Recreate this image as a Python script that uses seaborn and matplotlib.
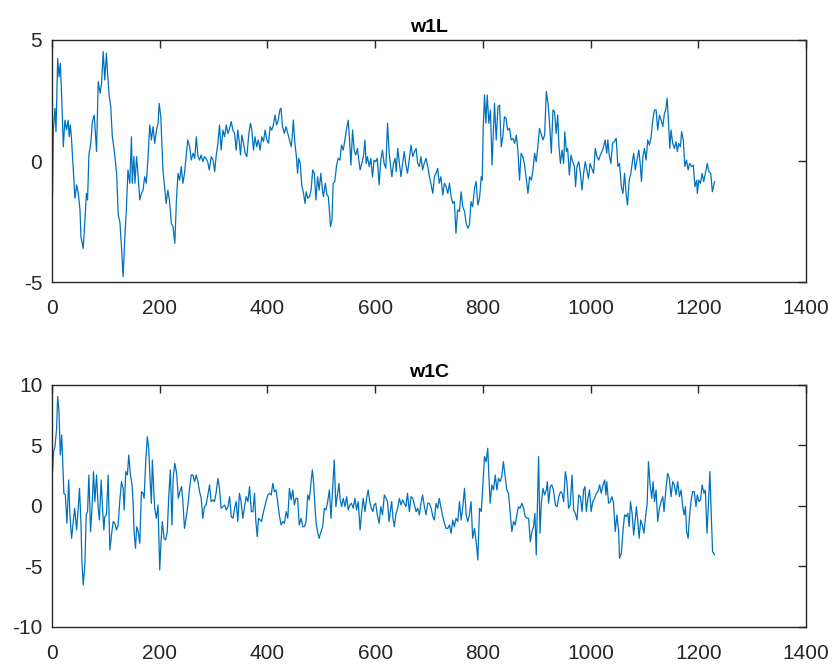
"""Two stacked time-series panels (w1L, w1C) in MATLAB-like style."""

import matplotlib
matplotlib.use("Agg")
import matplotlib.pyplot as plt
import seaborn as sns

LINE_COLOR = "#0072BD"
AXIS_COLOR = "#262626"

# ---- w1L (top panel) ----
w1l_x = [1, 2.5, 5.5, 7.4, 10.5, 13, 15.4, 18, 21, 24, 27, 30, 32, 34, 36, 39.5, 42.6, 45.7,
         48.8, 52, 53.7, 58, 61, 64, 66, 68.5, 72, 75, 78.4, 82.7, 85.8, 89.5, 92, 95, 98,
         101, 103, 106, 109, 112, 115.5, 120, 123, 126, 129, 132, 135, 138, 141, 144.5,
         147.5, 149, 152, 154, 157, 160, 163, 166, 169, 172, 175, 178, 181.5, 184.6, 187.6,
         190.7, 194, 197, 199, 202, 204, 206, 209, 212, 215, 218, 221.6, 224.7, 228, 231,
         234, 237, 240, 243, 246, 249, 252, 255.6, 258.6, 262, 265, 268, 271, 274, 277, 280,
         283, 286, 289, 292, 295.7, 299, 302, 305, 308, 311, 314, 317.3, 320.4, 323.5, 326.6,
         329.7, 332.8, 335.8, 339, 342, 345, 348, 350, 352.5, 355.6, 358.7, 361.7, 365.5,
         368.5, 371, 374, 377, 380, 383, 386.4, 389.5, 392.6, 395.7, 398.8, 402, 405, 408,
         411, 414, 417, 420, 423, 425, 428, 431.5, 434.6, 437.7, 440.7, 444, 446, 448, 451,
         453.7, 456, 458, 461, 463.6, 467, 469.7, 472, 475, 478, 481, 484, 487, 490, 493, 496,
         499, 502, 504, 507.4, 510.4, 513, 515.4, 517, 519.7, 522, 525, 528.4, 531.4, 534.5,
         537.6, 540.7, 543.8, 547, 550, 552.4, 555, 558, 561, 564, 567, 569.7, 572, 575,
         578.3, 581, 583.3, 585.7, 589, 592, 595, 598, 601, 604, 607.3, 610.4, 613.5, 616.6,
         619.7, 623, 626, 628, 631, 634, 637, 639, 642, 645, 648, 651, 654, 657, 660, 663.5,
         666.6, 669.7, 673, 676, 679, 682, 685, 688, 691, 694.5, 697.6, 700.7, 704, 707, 710,
         713, 716, 719, 722, 725.5, 728.6, 731.7, 734.8, 738, 741, 744, 747, 750, 753, 756.5,
         759.6, 762.7, 766, 769, 772, 775, 778, 781, 784.4, 787.5, 790.6, 793.7, 797, 798.7,
         800.5, 803, 805.5, 808, 811, 814, 817, 821.6, 824.7, 828, 831, 834, 837, 840, 843,
         846, 849.5, 852.6, 855.7, 859, 862, 865, 868, 871, 874, 877, 880.5, 883.6, 886.7,
         890, 893, 896, 899, 902, 905, 908, 911.5, 914.6, 917.7, 921, 924, 927, 930, 933, 936,
         939, 941, 944, 947, 950, 952, 955, 957.4, 960.5, 963.6, 966.7, 970, 972, 974.7, 978,
         981, 984, 987, 990, 993, 996, 999, 1002, 1005.5, 1008.6, 1011.7, 1015, 1018, 1021,
         1024, 1027, 1030, 1032, 1034.5, 1037.6, 1040.7, 1044, 1047.5, 1050.6, 1053.7, 1057,
         1060, 1063, 1066, 1068.5, 1071.6, 1074.7, 1078, 1080, 1083, 1086, 1089.5, 1092,
         1094.4, 1097, 1100, 1103, 1106, 1109, 1112, 1115.4, 1118.5, 1121.5, 1124.6, 1127.7,
         1131, 1134, 1137, 1139.4, 1142, 1144.4, 1147, 1149.3, 1152.4, 1155.5, 1158.6, 1161,
         1163.5, 1166.6, 1169, 1172, 1175, 1178, 1181, 1184, 1187.5, 1190.6, 1193.7, 1197,
         1198, 1201, 1204, 1207, 1210, 1213, 1216.6, 1219.6, 1223, 1226, 1230]
w1l_y = [-1.34, 1.28, 2.18, 1.21, 4.24, 3.48, 4.04, 2.66, 0.59, 1.69, 1.28, 1.69, 1.0, 1.49,
         1.0, -0.37, -1.54, -0.99, -1.34, -2.02, -3.13, -3.61, -2.44, -1.34, -1.61, 0.25,
         0.73, 1.63, 1.90, 0.39, 3.28, 2.80, 3.21, 4.52, 3.35, 4.45, 3.69, 2.73, 2.25, 1.0,
         0.45, -0.51, -2.23, -2.51, -3.54, -4.78, -3.26, -2.02, -0.37, -0.92, 1.0, -0.92, 0.18,
         -0.92, 0.18, -0.65, -1.61, -1.34, -1.2, -0.65, -0.92, 0.04, 1.49, 0.87, 1.42, 0.73,
         1.28, 1.56, 2.38, 1.83, 0.73, -0.37, -1.06, -1.75, -1.2, -1.61, -2.58, -2.71, -3.40,
         -1.61, -0.51, -0.79, -0.23, -0.92, -0.51, 0.18, 0.87, 0.59, 0.04, 0.32, 0.11, 1.0,
         0.18, 0.04, 0.25, -0.03, 0.18, 0.11, -0.03, -0.37, 0.18, 0.04, -0.44, 0.25, 0.73,
         1.49, 0.45, 1.28, 1.0, 1.49, 1.14, 1.35, 1.63, 1.28, 1.14, 0.45, 1.28, 0.73, 0.25,
         1.07, 0.73, 0.32, 0.18, 1.14, 1.56, 1.28, 0.45, 1.0, 0.59, 0.87, 0.45, 1.0, 0.80,
         1.28, 0.87, 0.73, 1.42, 1.28, 1.49, 1.90, 1.49, 1.69, 2.11, 2.18, 1.42, 1.14, 1.42,
         1.14, 0.87, 0.59, 1.0, 1.69, 0.73, 0.18, -0.51, 0.11, -0.10, -0.99, -1.34, -1.75,
         -1.27, -1.54, -1.47, -1.20, -0.37, -0.51, -1.61, -0.65, -1.20, -0.51, -1.20, -1.47,
         -0.92, -1.40, -1.47, -2.16, -2.71, -2.44, -0.92, -0.85, -0.17, 0.11, 0.04, 0.66,
         0.45, 0.87, 1.35, 1.69, 0.87, -0.17, 1.28, 0.45, 0.25, 0.52, 0.04, -0.37, -0.10,
         0.18, 0.87, -0.10, 0.18, -0.23, 0.11, -0.65, 0.04, -0.03, 0.11, -0.99, 0.04, 0.45,
         -0.10, -0.30, 1.56, 0.32, -0.10, -0.65, -0.10, 0.11, -0.44, 0.52, -0.10, -0.65,
         -0.10, 0.39, -0.17, -0.51, 0.11, 0.66, 0.18, 0.39, 0.52, -0.10, -0.23, 0.18, -0.37,
         -0.10, 0.11, -0.23, -0.65, -0.99, -1.34, -0.65, -0.51, -0.30, -0.92, -0.65, -1.40,
         -0.92, -1.06, -1.34, -0.92, -1.47, -1.75, -1.68, -2.99, -2.02, -2.09, -1.27, -1.89,
         -2.09, -2.58, -2.78, -2.64, -1.68, -1.89, -1.13, -0.85, -1.82, -1.54, -0.65, -0.79,
         1.28, 2.73, 1.56, 2.73, 1.56, 2.11, -0.17, 2.38, 0.87, 2.25, 2.31, 0.59, 1.0, 1.83,
         1.76, 1.28, 1.35, 0.87, 0.94, 0.73, 1.07, 0.45, -0.79, 0.32, 0.18, -0.10, -0.72,
         -1.34, -0.65, -0.79, -0.37, 0.32, -0.03, 0.59, 1.35, 1.14, 0.87, 1.07, 2.87, 2.38,
         1.49, 0.32, 2.11, 2.04, 1.14, 1.90, 0.66, -0.10, 0.45, -0.10, 1.21, 0.39, 0.52,
         -0.58, 0.25, -0.03, -0.23, -1.06, -0.23, -0.03, -0.51, -1.20, -0.51, -0.03, -0.37,
         -0.72, -0.10, -0.30, -0.51, 0.52, 0.18, 0.04, 0.25, 0.39, 0.59, 0.87, 0.32, 0.87,
         0.25, -0.10, 0.73, 0.80, 0.94, -0.23, -0.10, -1.06, -1.34, -0.51, -1.40, -1.82,
         -0.79, -0.51, 0.04, 0.32, -0.37, 0.04, 0.45, -0.10, -0.85, 0.18, 0.52, 0.04, 0.87,
         0.66, 0.94, 1.69, 2.11, 2.11, 1.28, 1.90, 1.69, 1.42, 1.97, 2.11, 2.59, 1.69, 0.52,
         1.28, 0.73, 0.52, 0.80, 0.39, 0.73, 0.59, 1.21, 0.87, -0.23, 0.04, -0.37, -0.10,
         -0.23, -0.17, -1.06, -0.79, -1.34, -0.79, -0.92, -0.51, -0.85, -0.51, -0.10, -0.44,
         -0.51, -1.27, -0.85]

# ---- w1C (bottom panel) ----
w1c_x = [1, 3, 5.5, 8.6, 10.5, 13, 15.4, 18, 19.7, 22, 24.7, 27.8, 31, 33.3, 36.4, 39.5, 42,
         45.7, 48.7, 51, 53.7, 55.5, 58, 61, 63.5, 66, 68.5, 71.6, 74.7, 77, 79.6, 82.7, 85.8,
         88, 91.3, 93.8, 96.3, 98, 101, 104.3, 107.4, 110.4, 113.5, 116.6, 119.7, 122.8, 126,
         129, 132, 134, 137, 140, 142.5, 145.6, 148.7, 150.5, 152.4, 155, 157.3, 160, 163,
         166, 169, 171, 174, 177, 179.5, 182, 184.5, 186.3, 188.8, 190.6, 193.7, 196.8, 200,
         202.4, 204.8, 208, 211, 214, 216.6, 219.7, 222.7, 225, 228, 231.4, 234.5, 237.5,
         240.6, 243, 246, 249, 252.4, 255.4, 258.5, 261.6, 264.7, 267.8, 271, 274, 277, 280,
         283, 286, 289.4, 292.5, 295.5, 298.6, 301.7, 305, 308, 311, 314, 317.4, 320.5, 323.6,
         326.7, 329.8, 332.8, 336, 339, 342, 345, 348, 351, 354.4, 357.5, 360.6, 363.7, 366.8,
         370, 373, 376, 378.5, 381, 383.4, 386.5, 389, 392, 395, 398, 400.7, 403.8, 407, 410,
         413, 416, 419, 422, 425.4, 428.5, 431.6, 434.7, 437.7, 440.8, 444, 447, 450, 453,
         456, 459, 462.4, 465.5, 468.6, 471.7, 474.8, 477.8, 481, 483.4, 486, 488.3, 490.8,
         493, 496, 499.4, 502.5, 505.6, 508.7, 511.8, 515, 518, 521, 524, 527, 530, 532.8,
         535, 537.7, 540.8, 544, 547, 550, 553, 556, 559.3, 562.4, 565.5, 568.5, 570.4, 572,
         574.7, 577.8, 581, 584, 587, 590, 593, 595.7, 598, 601, 604, 607.4, 610.5, 613.6,
         617, 620, 623, 625.7, 628, 630.6, 633, 635.6, 638.7, 641.8, 645, 648, 651, 654, 657,
         660, 663.5, 666.6, 669.7, 673, 676, 679, 682, 685, 688, 691.4, 694.5, 697.6, 700.7,
         704, 707, 710, 713, 716, 719, 722.4, 725.5, 728.6, 731.7, 734.8, 738, 741, 744, 747,
         750, 753.4, 756.5, 759.6, 762.7, 765.8, 769, 772, 775, 778, 781, 784.4, 787.5, 790.6,
         793.7, 797, 800, 803, 806, 809, 811, 813.5, 816.6, 819.7, 823, 826, 829, 832, 835,
         838, 841, 844.4, 847.5, 850.6, 853.7, 857, 860, 863, 866, 869, 872.4, 875.5, 878.6,
         881.7, 884.8, 888, 891, 894, 896.6, 899, 901, 903.4, 906, 908.4, 911.5, 914.6, 917.7,
         919.6, 922, 925, 928, 931, 934.6, 937.7, 941, 944, 947, 950, 953, 956, 959, 962,
         965.4, 968.5, 971.6, 974.7, 978, 981, 984, 987, 989.5, 992, 995, 998, 1001, 1004,
         1007.4, 1010.5, 1013.6, 1016.7, 1019.7, 1023, 1026, 1028.4, 1030, 1033.3, 1036.4,
         1039.5, 1042.6, 1045.6, 1048.7, 1052, 1053.7, 1057, 1060, 1063, 1066, 1069, 1071.6,
         1074, 1077, 1080, 1083, 1085, 1087.6, 1090, 1093, 1096, 1099, 1102.4, 1105, 1107.4,
         1110.4, 1113.5, 1116, 1118.5, 1121.5, 1124.6, 1127.7, 1130.8, 1134, 1136.3, 1140,
         1143, 1146, 1149.3, 1152.4, 1155.5, 1158.6, 1161.6, 1165, 1168, 1171, 1173.4, 1176,
         1178.3, 1181, 1183.3, 1186.3, 1189.4, 1192.5, 1195.6, 1198, 1201, 1204, 1207, 1210.4,
         1213, 1216, 1219, 1221.5, 1224, 1226.4, 1230]
w1c_y = [2.84, 4.49, 4.90, 6.42, 9.04, 7.80, 4.21, 5.87, 3.94, 1.05, 0.91, -1.43, 2.15, -0.74,
         -2.67, -1.29, -0.19, -1.98, -0.19, 1.46, -1.29, -4.60, -6.53, -4.88, -0.74, -0.47,
         2.56, -2.12, 0.22, 2.84, 0.36, 2.56, -0.19, -1.16, 2.15, -0.19, -1.98, -0.88, -0.74,
         2.56, -3.64, -2.40, -1.29, -1.43, -1.98, -1.57, 0.50, 2.01, 1.46, -0.33, 2.84, 2.56,
         4.21, 2.56, 1.74, 0.36, -2.12, -3.50, -1.71, -2.12, -3.09, 1.18, 1.05, 0.63, 3.66,
         5.73, 4.77, 2.29, 0.22, 3.80, 1.46, -0.19, -1.02, 0.08, -5.29, -2.95, -1.29, -2.67,
         -2.81, -2.12, 0.63, 2.98, -1.57, 2.29, 3.53, 2.70, 0.63, 1.18, 1.60, 0.36, -1.85,
         -1.02, 0.08, 1.46, 2.56, 2.56, 2.01, 2.56, 2.01, 1.18, 0.63, -1.02, -0.06, 0.08,
         0.91, 1.74, 0.36, 0.50, 0.36, 1.18, 2.29, 1.46, -0.19, -0.06, 0.08, -0.33, -0.06,
         0.77, -0.88, -1.02, -0.19, 0.36, -1.29, 1.05, 0.36, -1.02, -0.06, 0.77, 0.36, 1.60,
         -0.47, -0.47, 1.05, -1.29, -2.53, -1.02, -1.16, -1.29, -0.61, -0.06, 0.50, 0.91,
         1.05, 0.91, 1.87, 1.18, 1.32, 0.36, -0.74, -1.57, -1.29, -1.43, -0.47, -1.02, 1.46,
         0.50, 1.32, 0.08, 0.63, 0.63, -1.57, -1.02, -1.71, -1.71, -1.29, 0.91, 0.50, 2.01,
         2.98, 1.74, -0.19, -1.57, -2.12, -2.67, -2.12, -1.71, -0.19, -0.33, 0.36, 1.32,
         -1.02, 1.46, 3.80, -0.06, 0.91, 1.87, 0.50, -0.06, 0.63, -0.06, 0.77, -0.33, 0.08,
         0.22, -0.19, 0.63, -0.33, 0.36, -0.88, -1.98, -0.61, 0.63, -0.47, 0.63, 1.32, 0.36,
         -0.19, -0.47, 0.08, 0.22, -0.74, -1.43, -0.06, -0.74, 0.91, 0.63, 0.36, -1.29,
         -0.47, 0.36, -1.02, -1.71, -0.61, -0.19, 0.63, 0.08, 0.50, 0.22, -0.06, 1.05, -0.47,
         0.77, 0.63, 0.08, -0.47, -0.19, -0.74, 0.22, 0.91, -0.06, -0.74, 0.22, 0.22, -0.19,
         -0.88, -1.16, 0.22, -0.19, 0.63, -0.19, -0.88, -1.43, -1.85, -1.85, -1.57, -2.26,
         -1.16, -1.71, -1.02, -1.29, 0.36, -1.16, -0.06, 1.46, -0.74, -1.29, -0.74, 0.36,
         -2.67, -1.85, -2.95, -4.46, -0.19, -0.47, 1.74, 4.08, 3.66, 4.77, 2.56, 0.22, 1.74,
         1.32, 2.56, 1.32, 2.29, 2.01, 2.42, 3.66, 2.56, 1.32, 1.05, -0.47, -2.12, -1.29,
         -1.57, -0.74, -0.06, -0.19, 0.22, -0.19, -0.88, -1.02, -1.02, -2.95, -2.12, -1.71,
         -0.61, -4.05, -0.19, 4.08, -2.26, 0.22, 1.46, 0.91, 1.32, 2.01, 0.22, 1.60, 1.74,
         1.32, 0.08, -0.06, 0.77, 1.18, 1.05, 0.36, 2.84, 2.01, -0.19, 0.08, 2.56, -0.33,
         -0.61, -1.16, 0.91, 0.77, -0.47, 1.32, 1.60, -0.47, 0.63, 1.32, -0.47, 0.36, 0.63,
         1.05, 1.18, 1.74, 1.05, 1.74, 2.15, 0.91, 2.01, 0.22, 0.36, 0.77, 0.22, -2.12, -0.74,
         -2.12, -4.32, -3.91, -2.12, -0.74, -0.88, -0.61, -1.71, 0.36, -0.61, -2.40, -1.02,
         -0.06, -1.29, -2.67, -1.16, -1.57, -2.26, -0.74, 0.22, 3.66, 1.74, 0.63, 2.01, 0.36,
         1.32, -1.29, -0.19, 0.36, 0.77, -0.47, 1.46, 2.70, 2.29, 0.77, 2.01, 1.74, 0.91,
         2.01, 0.77, 1.32, -0.06, -0.74, -0.06, -2.12, -2.67, -1.02, 0.36, 1.18, 1.18, -0.06,
         0.91, 0.36, 0.50, 1.74, 1.05, 1.32, -2.26, 0.36, 2.84, -0.74, -3.77, -4.05]

panels = [
    ("w1L", w1l_x, w1l_y, (-5, 5), [-5, 0, 5]),
    ("w1C", w1c_x, w1c_y, (-10, 10), [-10, -5, 0, 5, 10]),
]
x_ticks = [0, 200, 400, 600, 800, 1000, 1200, 1400]

sns.set_style("white")
plt.rcParams["font.family"] = ["Liberation Sans", "DejaVu Sans"]
plt.rcParams["axes.unicode_minus"] = False  # MATLAB uses a plain hyphen

fig = plt.figure(figsize=(8.36, 6.71), dpi=100)
rects = [[0.0622, 0.5797, 0.902, 0.3607], [0.0622, 0.0656, 0.902, 0.3607]]

for rect, (title, xs, ys, ylim, yticks) in zip(rects, panels):
    ax = fig.add_axes(rect)
    sns.lineplot(x=xs, y=ys, ax=ax, color=LINE_COLOR, linewidth=0.9,
                 estimator=None, sort=False)
    ax.set_xlim(0, 1400)
    ax.set_ylim(*ylim)
    ax.set_xticks(x_ticks)
    ax.set_yticks(yticks)
    ax.tick_params(direction="in", length=6, width=1, top=True, right=True,
                   labelsize=15, colors=AXIS_COLOR)
    ax.tick_params(axis="x", pad=12)
    ax.tick_params(axis="y", pad=7)
    for side in ax.spines.values():
        side.set_visible(True)
        side.set_color(AXIS_COLOR)
        side.set_linewidth(1)
    ax.set_title(title, fontsize=14, fontweight="bold", color="black", pad=6)
    ax.set_xlabel("")
    ax.set_ylabel("")

fig.savefig("out.png", dpi=100)
plt.close(fig)
